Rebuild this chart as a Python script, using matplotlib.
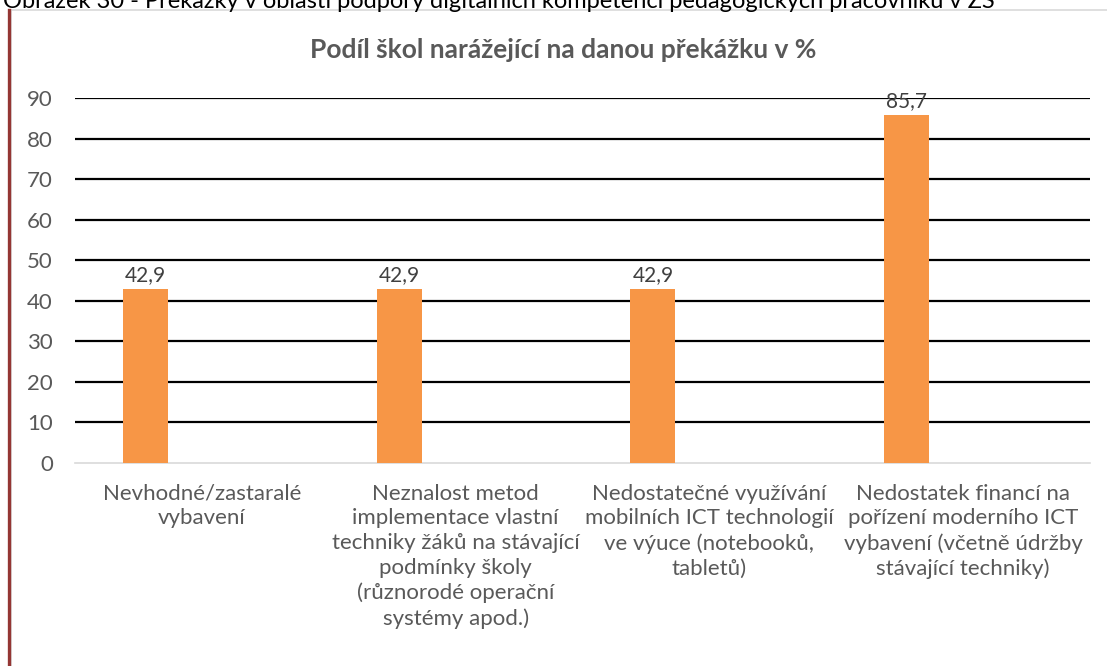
import matplotlib
matplotlib.use("Agg")
import matplotlib.pyplot as plt
from matplotlib.lines import Line2D

plt.rcParams['font.family'] = ['Lato', 'DejaVu Sans']

caption = "Obrázek 30 - Překážky v oblasti podpory digitálních kompetencí pedagogických pracovníků v ZŠ"
title = "Podíl škol narážející na danou překážku v %"
categories = [
    "Nevhodné/zastaralé\nvybavení",
    "Neznalost metod\nimplementace vlastní\ntechniky žáků na stávající\npodmínky školy\n(různorodé operační\nsystémy apod.)",
    "Nedostatečné využívání\nmobilních ICT technologií\nve výuce (notebooků,\ntabletů)",
    "Nedostatek financí na\npořízení moderního ICT\nvybavení (včetně údržby\nstávající techniky)",
]
values = [42.9, 42.9, 42.9, 85.7]
yticks = [0, 10, 20, 30, 40, 50, 60, 70, 80, 90]

W, H = 1107, 666
fig = plt.figure(figsize=(W / 100, H / 100), dpi=100)
ax = fig.add_axes([75 / W, (H - 463) / H, (1090 - 75) / W, (463 - 98) / H])

x = list(range(len(categories)))
bar_offset = -0.2225
bar_w = 0.177
bars = ax.bar([i + bar_offset for i in x], values, width=bar_w, color="#F79646", zorder=3)

for b, v in zip(bars, values):
    ax.annotate(f"{v:.1f}".replace(".", ","), (b.get_x() + b.get_width() / 2, v),
                xytext=(0, 3), textcoords="offset points", ha="center", va="bottom",
                fontsize=15, color="#404040", zorder=4)

ax.set_xlim(-0.5, len(categories) - 0.5)
ax.set_ylim(0, 90)
ax.set_yticks(yticks)
ax.set_yticklabels([str(t) for t in yticks])
ax.set_xticks(x)
ax.set_xticklabels(categories, linespacing=1.29, ha="center", va="top")
ax.tick_params(axis="both", length=0, colors="#595959", labelsize=16)
ax.tick_params(axis="y", pad=16)
ax.tick_params(axis="x", pad=15)
for lbl in ax.get_yticklabels():
    lbl.set_horizontalalignment("right")

ax.grid(axis="y", color="black", linewidth=1.6, zorder=0)
ax.grid(axis="x", visible=False)
ax.set_axisbelow(True)
gl = ax.get_ygridlines()
gl[0].set_visible(False)
for s in ["left", "right", "top"]:
    ax.spines[s].set_visible(False)
ax.spines["bottom"].set_color("#D9D9D9")
ax.spines["bottom"].set_linewidth(1.2)
ax.spines["bottom"].set_zorder(2)

fig.text(0.5 + 10 / W, (H - 50) / H, title, ha="center", va="center",
         fontsize=19, fontweight="bold", color="#595959")

fig.text(3 / W, 1.0, caption, ha="left", va="center", fontsize=17, color="black")

# chart frame
fig.add_artist(Line2D([10 / W, 1.0], [(H - 9.5) / H, (H - 9.5) / H], transform=fig.transFigure,
                      color="#D9D9D9", linewidth=1.2))
fig.add_artist(Line2D([11 / W, 11 / W], [0, (H - 9.5) / H], transform=fig.transFigure,
                      color="#D9D9D9", linewidth=1.2))
fig.add_artist(Line2D([8.5 / W, 8.5 / W], [0, (H - 9.5) / H], transform=fig.transFigure,
                      color="#943634", linewidth=2.4))

fig.savefig("out.png", dpi=100)
